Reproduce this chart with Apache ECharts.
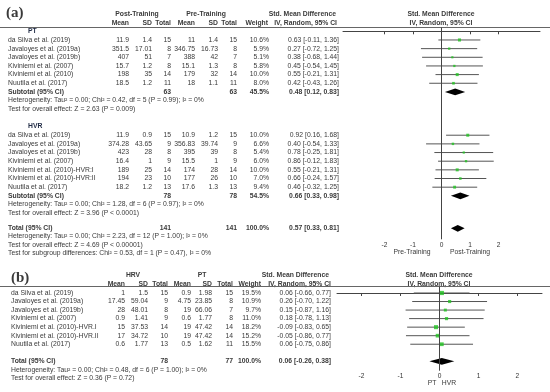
<!DOCTYPE html>
<html><head><meta charset="utf-8">
<script src="https://cdn.jsdelivr.net/npm/echarts@6/dist/echarts.min.js"></script>
<style>html,body{margin:0;padding:0;background:#fff}#c{width:550px;height:392px}</style>
</head><body><div id="c"></div>
<script>
// ---------- Panel (a): PT subgroup ----------
const ptStudies = ["da Silva et al. (2019)","Javaloyes et al. (2019a)","Javaloyes et al. (2019b)","Kiviniemi et al. (2007)","Kiviniemi et al. (2010)","Nuutila et al. (2017)"];
const ptPostMean = [11.9,351.5,407,15.7,198,18.5];
const ptPostSD = [1.4,17.01,51,1.2,35,1.2];
const ptPostN = [15,8,7,8,14,11];
const ptPreMean = [11,346.75,388,15.1,179,18];
const ptPreSD = [1.4,16.73,42,1.3,32,1.1];
const ptPreN = [15,8,7,8,14,11];
const ptWeight = [10.6,5.9,5.1,5.8,10.0,8.0];
const ptEst = [0.63,0.27,0.38,0.45,0.55,0.42];
const ptLo = [-0.11,-0.72,-0.68,-0.54,-0.21,-0.43];
const ptHi = [1.36,1.25,1.44,1.45,1.31,1.26];
const ptSub = {n1:63, n2:63, w:"45.5%", est:0.48, lo:0.12, hi:0.83};
const ptHet = "Heterogeneity: Tau\u00b2 = 0.00; Chi\u00b2 = 0.42, df = 5 (P = 0.99); I\u00b2 = 0%";
const ptTest = "Test for overall effect: Z = 2.63 (P = 0.009)";

// ---------- Panel (a): HVR subgroup ----------
const hvrStudies = ["da Silva et al. (2019)","Javaloyes et al. (2019a)","Javaloyes et al. (2019b)","Kiviniemi et al. (2007)","Kiviniemi et al. (2010)-HVR:I","Kiviniemi et al. (2010)-HVR:II","Nuutila et al. (2017)"];
const hvrPostMean = [11.9,374.28,423,16.4,189,194,18.2];
const hvrPostSD = [0.9,43.65,28,1,25,23,1.2];
const hvrPostN = [15,9,8,9,14,10,13];
const hvrPreMean = [10.9,356.83,395,15.5,174,177,17.6];
const hvrPreSD = [1.2,39.74,39,1,28,26,1.3];
const hvrPreN = [15,9,8,9,14,10,13];
const hvrWeight = [10.0,6.6,5.4,6.0,10.0,7.0,9.4];
const hvrEst = [0.92,0.40,0.78,0.86,0.55,0.66,0.46];
const hvrLo = [0.16,-0.54,-0.25,-0.12,-0.21,-0.24,-0.32];
const hvrHi = [1.68,1.33,1.81,1.83,1.31,1.57,1.25];
const hvrSub = {n1:78, n2:78, w:"54.5%", est:0.66, lo:0.33, hi:0.98};
const hvrHet = "Heterogeneity: Tau\u00b2 = 0.00; Chi\u00b2 = 1.28, df = 6 (P = 0.97); I\u00b2 = 0%";
const hvrTest = "Test for overall effect: Z = 3.96 (P < 0.0001)";

const aTotal = {n1:141, n2:141, w:"100.0%", est:0.57, lo:0.33, hi:0.81};
const aTotalNotes = ["Heterogeneity: Tau\u00b2 = 0.00; Chi\u00b2 = 2.23, df = 12 (P = 1.00); I\u00b2 = 0%",
  "Test for overall effect: Z = 4.69 (P < 0.00001)",
  "Test for subgroup differences: Chi\u00b2 = 0.53, df = 1 (P = 0.47), I\u00b2 = 0%"];

// ---------- Panel (b) ----------
const bStudies = ["da Silva et al. (2019)","Javaloyes et al. (2019a)","Javaloyes et al. (2019b)","Kiviniemi et al. (2007)","Kiviniemi et al. (2010)-HVR.I","Kiviniemi et al. (2010)-HVR.II","Nuutila et al. (2017)"];
const bHrvMean = [1,17.45,28,0.9,15,17,0.6];
const bHrvSD = [1.5,59.04,48.01,1.41,37.53,34.72,1.77];
const bHrvN = [15,9,8,9,14,10,13];
const bPtMean = [0.9,4.75,19,0.6,19,19,0.5];
const bPtSD = [1.98,23.85,66.06,1.77,47.42,47.42,1.62];
const bPtN = [15,8,7,8,14,14,11];
const bWeight = [19.5,10.9,9.7,11.0,18.2,15.2,15.5];
const bEst = [0.06,0.26,0.15,0.18,-0.09,-0.05,0.06];
const bLo = [-0.66,-0.70,-0.87,-0.78,-0.83,-0.86,-0.75];
const bHi = [0.77,1.22,1.16,1.13,0.65,0.77,0.86];
const bTotal = {n1:78, n2:77, w:"100.0%", est:0.06, lo:-0.26, hi:0.38};
const bNotes = ["Heterogeneity: Tau\u00b2 = 0.00; Chi\u00b2 = 0.48, df = 6 (P = 1.00); I\u00b2 = 0%",
  "Test for overall effect: Z = 0.36 (P = 0.72)"];

const axisTicks = [-2,-1,0,1,2];

// ---------- layout helpers ----------
const FONT = '"Liberation Sans", Arial, sans-serif';
const TXT = '#3a3a3a';
const FS = 6.8;
const colA = [129,152,171,195,218,237,269,339];
const colB = [125,148,168,191,212,233,261,331];
const f2 = v => v.toFixed(2);
const ciText = (e,l,h) => f2(e) + ' [' + f2(l) + ', ' + f2(h) + ']';

function studyRow(idx, nameX, cols, name, m1, s1, n1, m2, s2, n2, w, e, l, h) {
  const vals = [String(m1), String(s1), String(n1), String(m2), String(s2), String(n2), w.toFixed(1) + '%', ciText(e,l,h)];
  const cells = [{t:name, x:nameX, align:'left'}];
  vals.forEach((v,i) => cells.push({t:v, x:cols[i], align:'right'}));
  return {idx, cells};
}
function sumRow(idx, nameX, cols, label, s) {
  return {idx, bold:true, cells:[{t:label, x:nameX, align:'left'},
    {t:String(s.n1), x:cols[2], align:'right'}, {t:String(s.n2), x:cols[5], align:'right'},
    {t:s.w, x:cols[6], align:'right'}, {t:ciText(s.est,s.lo,s.hi), x:cols[7], align:'right'}]};
}
function noteRow(idx, x, t) { return {idx, cells:[{t, x, align:'left'}]}; }

// rows for panel (a)
const rowsA = [];
const ptIdx0 = 1, hvrIdx0 = 12;
rowsA.push({idx:0, bold:true, color:'#1f2a44', cells:[{t:'PT', x:28, align:'left'}]});
ptStudies.forEach((s,i) => rowsA.push(studyRow(ptIdx0+i, 8, colA, s, ptPostMean[i], ptPostSD[i], ptPostN[i], ptPreMean[i], ptPreSD[i], ptPreN[i], ptWeight[i], ptEst[i], ptLo[i], ptHi[i])));
rowsA.push(sumRow(7, 8, colA, 'Subtotal (95% CI)', ptSub));
rowsA.push(noteRow(8, 8, ptHet));
rowsA.push(noteRow(9, 8, ptTest));
rowsA.push({idx:11, bold:true, color:'#1f2a44', cells:[{t:'HVR', x:28, align:'left'}]});
hvrStudies.forEach((s,i) => rowsA.push(studyRow(hvrIdx0+i, 8, colA, s, hvrPostMean[i], hvrPostSD[i], hvrPostN[i], hvrPreMean[i], hvrPreSD[i], hvrPreN[i], hvrWeight[i], hvrEst[i], hvrLo[i], hvrHi[i])));
rowsA.push(sumRow(19, 8, colA, 'Subtotal (95% CI)', hvrSub));
rowsA.push(noteRow(20, 8, hvrHet));
rowsA.push(noteRow(21, 8, hvrTest));
const totIdxA = 22.75;
rowsA.push(sumRow(totIdxA, 8, colA, 'Total (95% CI)', aTotal));
aTotalNotes.forEach((t,i) => rowsA.push(noteRow(totIdxA + 0.95*(i+1), 8, t)));

// rows for panel (b)
const rowsB = [];
bStudies.forEach((s,i) => rowsB.push(studyRow(i, 11, colB, s, bHrvMean[i], bHrvSD[i], bHrvN[i], bPtMean[i], bPtSD[i], bPtN[i], bWeight[i], bEst[i], bLo[i], bHi[i])));
rowsB.push(sumRow(8, 11, colB, 'Total (95% CI)', bTotal));
bNotes.forEach((t,i) => rowsB.push(noteRow(9+i, 11, t)));

// forest data
const forestA = [];
ptEst.forEach((e,i) => forestA.push([e, ptLo[i], ptHi[i], ptIdx0+i, ptWeight[i]]));
hvrEst.forEach((e,i) => forestA.push([e, hvrLo[i], hvrHi[i], hvrIdx0+i, hvrWeight[i]]));
const diamondsA = [[ptSub.est, ptSub.lo, ptSub.hi, 7], [hvrSub.est, hvrSub.lo, hvrSub.hi, 19], [aTotal.est, aTotal.lo, aTotal.hi, totIdxA]];
const forestB = bEst.map((e,i) => [e, bLo[i], bHi[i], i, bWeight[i]]);
const diamondsB = [[bTotal.est, bTotal.lo, bTotal.hi, 8]];

// ---------- render functions ----------
function tableRender(rows) {
  return function(params, api) {
    const r = rows[params.dataIndex];
    const y = api.coord([0, r.idx])[1];
    return {type:'group', children: r.cells.map(c => ({type:'text', silent:true, style:{
      text:c.t, x:c.x, y:y, align:c.align, verticalAlign:'middle',
      fontFamily:FONT, fontSize:FS, fontWeight: r.bold ? 'bold' : 'normal', fill: r.color || TXT}}))};
  };
}
function ciRender(params, api) {
  const p1 = api.coord([api.value(1), api.value(3)]);
  const p2 = api.coord([api.value(2), api.value(3)]);
  return {type:'line', shape:{x1:p1[0], y1:p1[1], x2:p2[0], y2:p2[1]}, style:{stroke:'#555', lineWidth:1}};
}
function diamondRender(params, api) {
  const y = api.value(3);
  const pe = api.coord([api.value(0), y]);
  const pl = api.coord([api.value(1), y]);
  const ph = api.coord([api.value(2), y]);
  const hh = 3.4;
  return {type:'polygon', shape:{points:[[pl[0],pl[1]],[pe[0],pe[1]-hh],[ph[0],ph[1]],[pe[0],pe[1]+hh]]}, style:{fill:'#000'}};
}

function xAxisCfg(gi, lim) {
  return {gridIndex:gi, type:'value', min:-lim, max:lim,
    axisLine:{show:true, lineStyle:{color:'#444', width:1}},
    axisTick:{show:true, customValues:axisTicks, length:3, lineStyle:{color:'#444'}},
    axisLabel:{show:true, customValues:axisTicks, fontSize:6.6, color:'#333', margin:2, fontFamily:FONT},
    splitLine:{show:false}};
}
function yAxisCfg(gi, mn, mx) {
  return {gridIndex:gi, type:'value', min:mn, max:mx, inverse:true, show:false};
}

function seriesFor(gi, rows, forest, diamonds, symK) {
  return [
    {type:'custom', xAxisIndex:gi, yAxisIndex:gi, renderItem:tableRender(rows), data:rows.map(r => [0, r.idx]), silent:true, z:5},
    {type:'custom', xAxisIndex:gi, yAxisIndex:gi, renderItem:ciRender, data:forest, encode:{x:[1,2], y:3}, silent:true, z:3,
      markLine:{silent:true, symbol:'none', label:{show:false}, lineStyle:{color:'#444', type:'solid', width:1}, data:[{xAxis:0}]}},
    {type:'scatter', xAxisIndex:gi, yAxisIndex:gi, symbol:'rect', data:forest.map(d => [d[0], d[3], d[4]]),
      symbolSize: v => Math.max(2, symK*Math.sqrt(v[2])), itemStyle:{color:'#22c322'}, silent:true, z:4},
    {type:'custom', xAxisIndex:gi, yAxisIndex:gi, renderItem:diamondRender, data:diamonds, encode:{x:[1,2], y:3}, silent:true, z:4}
  ];
}

function hText(t, x, y, align, bold, size, family) {
  return {type:'text', silent:true, style:{text:t, x, y, align, verticalAlign:'middle',
    fontFamily: family || FONT, fontSize: size || FS, fontWeight: bold ? 'bold' : 'normal', fill:TXT}};
}
const graphics = [
  hText('(a)', 6, 13, 'left', true, 15, '"Liberation Serif", "Times New Roman", serif'),
  hText('Post-Training', 137, 14, 'center', true),
  hText('Pre-Training', 206, 14, 'center', true),
  hText('Std. Mean Difference', 336, 14, 'right', true),
  hText('Std. Mean Difference', 441, 14, 'center', true),
  hText('Mean', 129, 23, 'right', true), hText('SD', 152, 23, 'right', true), hText('Total', 171, 23, 'right', true),
  hText('Mean', 195, 23, 'right', true), hText('SD', 218, 23, 'right', true), hText('Total', 237, 23, 'right', true),
  hText('Weight', 268, 23, 'right', true), hText('IV, Random, 95% CI', 337, 23, 'right', true),
  hText('IV, Random, 95% CI', 441, 23, 'center', true),
  {type:'line', silent:true, shape:{x1:0, y1:27.5, x2:550, y2:27.5}, style:{stroke:'#666', lineWidth:1}},
  hText('Pre-Training', 412, 252.5, 'center', false, 6.8),
  hText('Post-Training', 470, 252.5, 'center', false, 6.8),

  hText('(b)', 11, 278, 'left', true, 15, '"Liberation Serif", "Times New Roman", serif'),
  hText('HRV', 133, 274.7, 'center', true),
  hText('PT', 202, 274.7, 'center', true),
  hText('Std. Mean Difference', 329, 274.7, 'right', true),
  hText('Std. Mean Difference', 439, 274.7, 'center', true),
  hText('Mean', 125, 283.7, 'right', true), hText('SD', 148, 283.7, 'right', true), hText('Total', 168, 283.7, 'right', true),
  hText('Mean', 191, 283.7, 'right', true), hText('SD', 212, 283.7, 'right', true), hText('Total', 233, 283.7, 'right', true),
  hText('Weight', 261, 283.7, 'right', true), hText('IV, Random, 95% CI', 331, 283.7, 'right', true),
  hText('IV, Random, 95% CI', 439, 283.7, 'center', true),
  {type:'line', silent:true, shape:{x1:0, y1:286.5, x2:550, y2:286.5}, style:{stroke:'#666', lineWidth:1}},
  hText('PT', 432, 383.5, 'center', false, 6.8),
  hText('HVR', 449, 383.5, 'center', false, 6.8)
];

const chart = echarts.init(document.getElementById('c'), null, {renderer:'canvas'});
chart.setOption({
  animation:false,
  backgroundColor:'#fff',
  grid:[
    {left:343, right:10, top:27.5, height:211.8},
    {left:337, right:8, top:286.5, height:84.2}
  ],
  xAxis:[xAxisCfg(0, 3.45), xAxisCfg(1, 2.63)],
  yAxis:[yAxisCfg(0, -0.44, 24.02), yAxisCfg(1, -0.76, 9.1)],
  series:[...seriesFor(0, rowsA, forestA, diamondsA, 0.95), ...seriesFor(1, rowsB, forestB, diamondsB, 0.95)],
  graphic:graphics
});
</script>
</body></html>
